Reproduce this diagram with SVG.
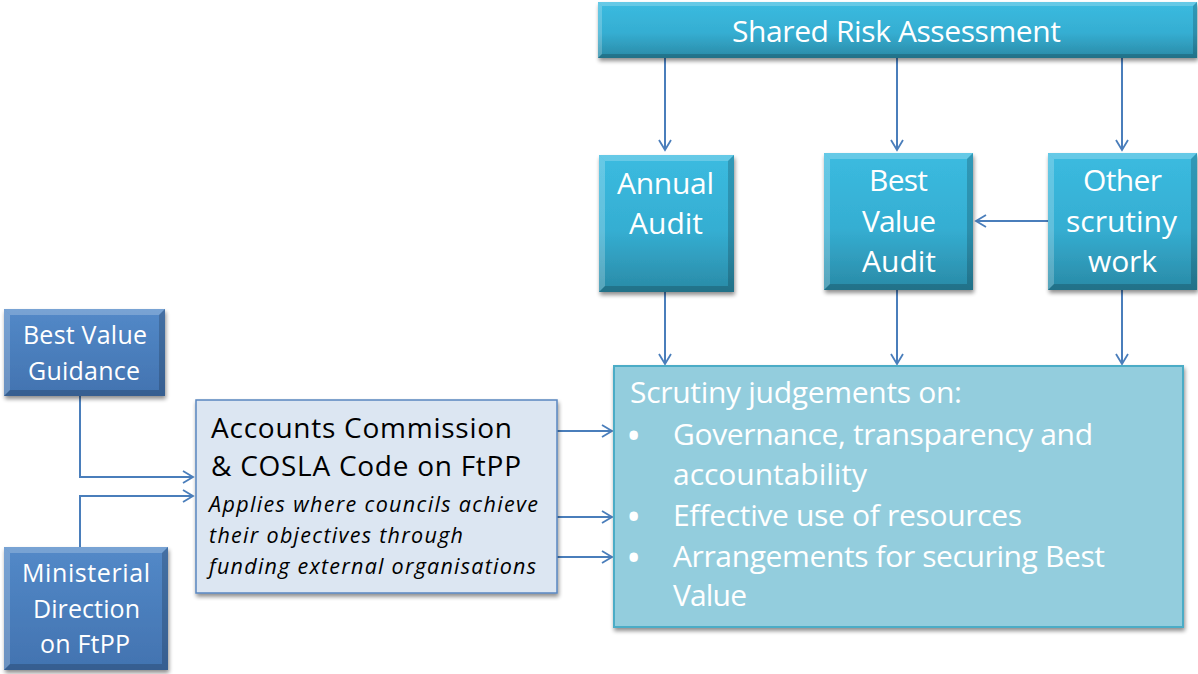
<svg xmlns="http://www.w3.org/2000/svg" width="1198" height="674" viewBox="0 0 1198 674">
  <defs>
    <linearGradient id="tealGrad" x1="0" y1="0" x2="0" y2="1">
      <stop offset="0" stop-color="#3bbbe0"/>
      <stop offset="0.55" stop-color="#35aed2"/>
      <stop offset="1" stop-color="#2a8aa6"/>
    </linearGradient>
    <linearGradient id="blueGrad" x1="0" y1="0" x2="0" y2="1">
      <stop offset="0" stop-color="#5389c8"/>
      <stop offset="1" stop-color="#4273b0"/>
    </linearGradient>
    <filter id="shadow" x="-10%" y="-10%" width="125%" height="130%">
      <feGaussianBlur in="SourceAlpha" stdDeviation="2"/>
      <feOffset dx="1" dy="3" result="b"/>
      <feComponentTransfer><feFuncA type="linear" slope="0.45"/></feComponentTransfer>
      <feMerge><feMergeNode/><feMergeNode in="SourceGraphic"/></feMerge>
    </filter>
    <marker id="arrow" markerUnits="userSpaceOnUse" markerWidth="14" markerHeight="16" refX="11" refY="7" orient="auto">
      <path d="M1,1 L11,7 L1,13" fill="none" stroke="#4a7ebb" stroke-width="1.8"/>
    </marker>
  </defs>
  <style>
    .teal { fill: url(#tealGrad); }
    .blue { fill: url(#blueGrad); }
    .hi { fill: #ffffff; opacity: 0.22; }
    .lo { fill: #000000; opacity: 0.18; }
    text { font-family: "Open Sans", Lato, "Liberation Sans", sans-serif; }
    .wt { fill: #ffffff; }
    .bk { fill: #000000; }
    .bullet { font-weight: bold; }
    .conn { fill: none; stroke: #4a7ebb; stroke-width: 2; marker-end: url(#arrow); }
  </style>

  <rect width="1198" height="674" fill="#ffffff"/>

  <!-- connectors -->
  <g id="connectors">
    <path class="conn" d="M665,58 V150"/>
    <path class="conn" d="M897,58 V150"/>
    <path class="conn" d="M1122,58 V150"/>
    <path class="conn" d="M1048,221 H976"/>
    <path class="conn" d="M665,292 V364"/>
    <path class="conn" d="M897,290 V364"/>
    <path class="conn" d="M1122,290 V364"/>
    <path class="conn" d="M80,396 V477 H193"/>
    <path class="conn" d="M80,547 V496 H193"/>
    <path class="conn" d="M557,431 H612"/>
    <path class="conn" d="M557,517 H612"/>
    <path class="conn" d="M557,557 H612"/>
  </g>

  <!-- Shared Risk Assessment -->
  <g id="shared-risk">
    <g filter="url(#shadow)">
      <rect class="teal" x="598" y="2" width="599" height="56"/>
    </g>
    <polygon class="hi" points="598,2 1197,2 1193,6 602,6"/>
    <polygon class="hi" points="598,2 602,6 602,54 598,58"/>
    <polygon class="lo" points="598,58 602,54 1193,54 1197,58"/>
    <polygon class="lo" points="1197,2 1197,58 1193,54 1193,6"/>
    <text class="wt" x="732" y="42" font-size="30" textLength="329" lengthAdjust="spacing">Shared Risk Assessment</text>
  </g>

  <!-- Annual Audit -->
  <g id="annual-audit">
    <g filter="url(#shadow)">
      <rect class="teal" x="599" y="155" width="135" height="137"/>
    </g>
    <polygon class="hi" points="599,155 734,155 728,161 605,161"/>
    <polygon class="hi" points="599,155 605,161 605,286 599,292"/>
    <polygon class="lo" points="599,292 605,286 728,286 734,292"/>
    <polygon class="lo" points="734,155 734,292 728,286 728,161"/>
    <text class="wt" x="617" y="194" font-size="30" textLength="97" lengthAdjust="spacing">Annual</text>
    <text class="wt" x="629" y="234" font-size="30" textLength="74" lengthAdjust="spacing">Audit</text>
  </g>

  <!-- Best Value Audit -->
  <g id="best-value-audit">
    <g filter="url(#shadow)">
      <rect class="teal" x="824" y="153" width="149" height="137"/>
    </g>
    <polygon class="hi" points="824,153 973,153 967,159 830,159"/>
    <polygon class="hi" points="824,153 830,159 830,284 824,290"/>
    <polygon class="lo" points="824,290 830,284 967,284 973,290"/>
    <polygon class="lo" points="973,153 973,290 967,284 967,159"/>
    <text class="wt" x="869" y="191" font-size="30" textLength="59" lengthAdjust="spacing">Best</text>
    <text class="wt" x="862" y="232" font-size="30" textLength="74" lengthAdjust="spacing">Value</text>
    <text class="wt" x="862" y="272" font-size="30" textLength="74" lengthAdjust="spacing">Audit</text>
  </g>

  <!-- Other scrutiny work -->
  <g id="other-scrutiny">
    <g filter="url(#shadow)">
      <rect class="teal" x="1048" y="153" width="149" height="137"/>
    </g>
    <polygon class="hi" points="1048,153 1197,153 1191,159 1054,159"/>
    <polygon class="hi" points="1048,153 1054,159 1054,284 1048,290"/>
    <polygon class="lo" points="1048,290 1054,284 1191,284 1197,290"/>
    <polygon class="lo" points="1197,153 1197,290 1191,284 1191,159"/>
    <text class="wt" x="1083" y="191" font-size="30" textLength="79" lengthAdjust="spacing">Other</text>
    <text class="wt" x="1066" y="232" font-size="30" textLength="111" lengthAdjust="spacing">scrutiny</text>
    <text class="wt" x="1088" y="272" font-size="30" textLength="69" lengthAdjust="spacing">work</text>
  </g>

  <!-- Best Value Guidance -->
  <g id="bv-guidance">
    <g filter="url(#shadow)">
      <rect class="blue" x="4" y="309" width="161" height="87"/>
    </g>
    <polygon class="hi" points="4,309 165,309 159,315 10,315"/>
    <polygon class="hi" points="4,309 10,315 10,390 4,396"/>
    <polygon class="lo" points="4,396 10,390 159,390 165,396"/>
    <polygon class="lo" points="165,309 165,396 159,390 159,315"/>
    <text class="wt" x="23" y="344" font-size="25" textLength="124" lengthAdjust="spacing">Best Value</text>
    <text class="wt" x="28" y="380" font-size="25" textLength="112" lengthAdjust="spacing">Guidance</text>
  </g>

  <!-- Ministerial Direction on FtPP -->
  <g id="ministerial">
    <g filter="url(#shadow)">
      <rect class="blue" x="4" y="547" width="164" height="123"/>
    </g>
    <polygon class="hi" points="4,547 168,547 162,553 10,553"/>
    <polygon class="hi" points="4,547 10,553 10,664 4,670"/>
    <polygon class="lo" points="4,670 10,664 162,664 168,670"/>
    <polygon class="lo" points="168,547 168,670 162,664 162,553"/>
    <text class="wt" x="22" y="582" font-size="25" textLength="128" lengthAdjust="spacing">Ministerial</text>
    <text class="wt" x="33" y="618" font-size="25" textLength="107" lengthAdjust="spacing">Direction</text>
    <text class="wt" x="40" y="653" font-size="25" textLength="90" lengthAdjust="spacing">on FtPP</text>
  </g>

  <!-- Accounts Commission & COSLA Code -->
  <g id="code-ftpp">
    <rect x="196" y="400" width="361" height="193" fill="#dce6f2" stroke="#5a86c0" stroke-width="1.5" filter="url(#shadow)"/>
    <text class="bk" x="211" y="438" font-size="28" textLength="301" lengthAdjust="spacing">Accounts Commission</text>
    <text class="bk" x="211" y="476" font-size="28" textLength="310" lengthAdjust="spacing">&amp; COSLA Code on FtPP</text>
    <text class="bk" x="209" y="512" font-size="21.5" font-style="italic" textLength="329" lengthAdjust="spacing">Applies where councils achieve</text>
    <text class="bk" x="209" y="543" font-size="21.5" font-style="italic" textLength="254" lengthAdjust="spacing">their objectives through</text>
    <text class="bk" x="209" y="574" font-size="21.5" font-style="italic" textLength="327" lengthAdjust="spacing">funding external organisations</text>
  </g>

  <!-- Scrutiny judgements -->
  <g id="scrutiny-judgements">
    <rect x="614" y="366" width="569" height="261" fill="#93cddd" stroke="#4bacc6" stroke-width="2" filter="url(#shadow)"/>
    <g class="wt" font-size="30">
      <text x="630" y="403" textLength="332" lengthAdjust="spacing">Scrutiny judgements on:</text>
      <text class="bullet" x="628" y="446">•</text>
      <text x="673" y="445" textLength="420" lengthAdjust="spacing">Governance, transparency and</text>
      <text x="673" y="485" textLength="194" lengthAdjust="spacing">accountability</text>
      <text class="bullet" x="628" y="527">•</text>
      <text x="673" y="526" textLength="349" lengthAdjust="spacing">Effective use of resources</text>
      <text class="bullet" x="628" y="568">•</text>
      <text x="673" y="567" textLength="432" lengthAdjust="spacing">Arrangements for securing Best</text>
      <text x="673" y="606" textLength="74" lengthAdjust="spacing">Value</text>
    </g>
  </g>
</svg>
